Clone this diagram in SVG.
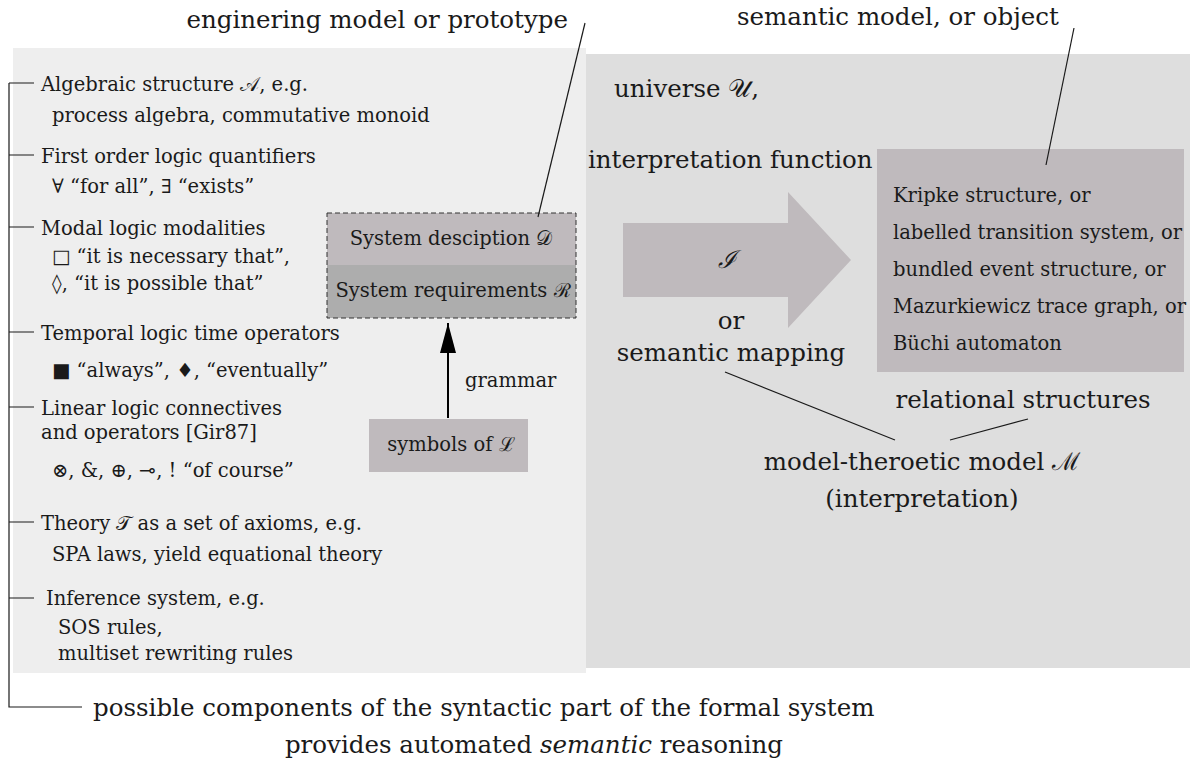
<svg xmlns="http://www.w3.org/2000/svg" width="1197" height="760" viewBox="0 0 1197 760">
  <style>
    text { font-family: "DejaVu Serif", "Liberation Serif", serif; fill: #1a1a1a; }
    .big { font-size: 24.5px; }
    .sm { font-size: 19.5px; }
    .mid { text-anchor: middle; }
    .it { font-style: italic; }
    .line { stroke: #1a1a1a; stroke-width: 1.2; fill: none; }
    .box { fill: #bfbabd; }
  </style>
  <defs>
    <!-- solid triangular head, drawn along +x so orient="auto" follows the line -->
    <marker id="tri" markerWidth="30" markerHeight="16" refX="30" refY="8" orient="auto" markerUnits="userSpaceOnUse" viewBox="0 0 30 16">
      <path d="M0,0 L30,8 L0,16 Z" fill="#000"/>
    </marker>
  </defs>

  <!-- background panels -->
  <rect id="syntax-panel" x="13" y="48" width="573" height="625" fill="#eeeeee"/>
  <rect id="semantics-panel" x="586" y="54" width="604" height="614" fill="#dedede"/>

  <!-- headings above the panels -->
  <g id="heading-engineering">
    <text class="big" x="568" y="28" text-anchor="end">enginering model or prototype</text>
  </g>
  <g id="heading-semantic">
    <text class="big" x="737" y="25">semantic model, or object</text>
  </g>

  <!-- syntactic components list with bracket -->
  <g id="component-list">
    <path class="line" d="M9,83 V707 H82"/>
    <path class="line" d="M9,83 H34 M9,155 H34 M9,227 H34 M9,332 H34 M9,407 H34 M9,522 H34 M9,598 H34"/>
    <text class="sm" x="41" y="91">Algebraic structure 𝒜, e.g.</text>
    <text class="sm" x="52" y="122">process algebra, commutative monoid</text>
    <text class="sm" x="41" y="163">First order logic quantifiers</text>
    <text class="sm" x="52" y="193">∀ “for all”, ∃ “exists”</text>
    <text class="sm" x="41" y="235">Modal logic modalities</text>
    <text class="sm" x="52" y="263">□ “it is necessary that”,</text>
    <text class="sm" x="52" y="290">◊, “it is possible that”</text>
    <text class="sm" x="41" y="340">Temporal logic time operators</text>
    <text class="sm" x="52" y="377">■ “always”, ♦, “eventually”</text>
    <text class="sm" x="41" y="415">Linear logic connectives</text>
    <text class="sm" x="41" y="439">and operators [Gir87]</text>
    <text class="sm" x="52" y="477">⊗, &amp;, ⊕, ⊸, ! “of course”</text>
    <text class="sm" x="41" y="530">Theory 𝒯 as a set of axioms, e.g.</text>
    <text class="sm" x="52" y="561">SPA laws, yield equational theory</text>
    <text class="sm" x="46" y="605">Inference system, e.g.</text>
    <text class="sm" x="58" y="634">SOS rules,</text>
    <text class="sm" x="58" y="660">multiset rewriting rules</text>
  </g>

  <!-- system description / requirements -->
  <g id="system-box">
    <rect x="327" y="213" width="249" height="52" fill="#bfbabd"/>
    <rect x="327" y="265" width="249" height="53" fill="#adadad"/>
    <rect x="327" y="213" width="249" height="105" fill="none" stroke="#333" stroke-width="1" stroke-dasharray="5,3"/>
    <text class="sm mid" x="451" y="245">System desciption 𝒟</text>
    <text class="sm mid" x="453" y="297">System requirements ℛ</text>
  </g>

  <g id="symbols-box">
    <rect class="box" x="369" y="419" width="159" height="53"/>
    <text class="sm mid" x="451" y="451">symbols of ℒ</text>
  </g>

  <!-- interpretation arrow -->
  <g id="interp-arrow">
    <polygon points="623,223 788,223 788,192 851,260 788,328 788,297 623,297" fill="#bfbabd"/>
    <text class="big it mid" x="727" y="268">ℐ</text>
  </g>

  <g id="semantic-labels">
    <text class="big" x="614" y="97">universe 𝒰,</text>
    <text class="big" x="588" y="168">interpretation function</text>
    <text class="big mid" x="731" y="329">or</text>
    <text class="big mid" x="731" y="361">semantic mapping</text>
  </g>

  <g id="structures-box">
    <rect class="box" x="877" y="149" width="307" height="223"/>
    <text class="sm" x="893" y="202">Kripke structure, or</text>
    <text class="sm" x="893" y="239">labelled transition system, or</text>
    <text class="sm" x="893" y="276">bundled event structure, or</text>
    <text class="sm" x="893" y="313">Mazurkiewicz trace graph, or</text>
    <text class="sm" x="893" y="350">Büchi automaton</text>
  </g>

  <g id="model-labels">
    <text class="big mid" x="1023" y="408">relational structures</text>
    <text class="big mid" x="922" y="470">model-theroetic model ℳ</text>
    <text class="big mid" x="922" y="507">(interpretation)</text>
  </g>

  <g id="footer">
    <text class="big" x="93" y="716">possible components of the syntactic part of the formal system</text>
    <text class="big mid" x="534" y="753">provides automated <tspan class="it">semantic</tspan> reasoning</text>
  </g>

  <!-- connectors -->
  <g id="connectors">
    <line class="line" x1="585" y1="23" x2="538" y2="217"/>
    <line class="line" x1="1074" y1="28" x2="1046" y2="165"/>
    <line class="line" x1="725" y1="372" x2="895" y2="440"/>
    <line class="line" x1="1028" y1="419" x2="950" y2="440"/>
    <line x1="448" y1="418" x2="448" y2="323" stroke="#000" stroke-width="2" marker-end="url(#tri)"/>
    <text class="sm" x="465" y="387">grammar</text>
  </g>
</svg>
